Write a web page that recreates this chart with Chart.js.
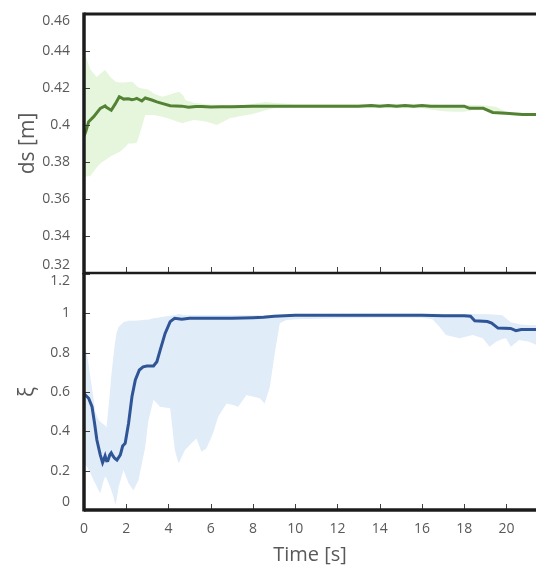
<!DOCTYPE html>
<html>
<head>
<meta charset="utf-8">
<script src="https://cdn.jsdelivr.net/npm/chart.js"></script>
<style>
  html, body { margin: 0; padding: 0; background: #fff; }
  #wrap { position: relative; width: 536px; height: 565px; overflow: hidden; }
  canvas { position: absolute; left: 0; }
  #topChart { top: 0; }
  #botChart { top: 273px; }
</style>
</head>
<body>
<div id="wrap">
  <canvas id="topChart" width="536" height="276"></canvas>
  <canvas id="botChart" width="536" height="292"></canvas>
</div>
<script>
// ---- top panel: ds [m] ----
const dsTime = [0, 0.1, 0.22, 0.46, 0.77, 1.0, 1.06, 1.29, 1.48, 1.67, 1.88, 2.1, 2.27, 2.4, 2.5, 2.6, 2.74, 2.9, 3.21, 3.45, 3.69, 4.08, 4.63, 4.95, 5.3, 5.58, 6.0, 6.5, 7.0, 7.47, 8, 9, 10, 11, 12, 13, 13.6, 14, 14.4, 14.8, 15.2, 15.6, 16, 16.4, 17, 17.5, 18, 18.25, 18.9, 19.35, 19.98, 20.77, 21.4];
const dsMean = [0.394, 0.397, 0.4018, 0.4045, 0.409, 0.4103, 0.4096, 0.408, 0.4114, 0.4153, 0.414, 0.4142, 0.4137, 0.414, 0.4144, 0.4138, 0.413, 0.4146, 0.4135, 0.4125, 0.4117, 0.4104, 0.4102, 0.4096, 0.41, 0.41, 0.4097, 0.4098, 0.4098, 0.41, 0.4102, 0.4102, 0.4102, 0.4102, 0.4102, 0.4102, 0.4106, 0.4102, 0.4106, 0.4102, 0.4106, 0.4102, 0.4106, 0.4102, 0.4102, 0.4102, 0.4102, 0.409, 0.409, 0.4068, 0.4063, 0.4057, 0.4057];
const dsBandTime = [0, 0.3, 0.6, 0.8, 1.0, 1.25, 1.5, 1.7, 1.95, 2.1, 2.3, 2.5, 2.65, 2.9, 3.0, 3.2, 3.3, 3.7, 4.0, 4.2, 4.5, 4.7, 4.8, 5.2, 5.6, 5.8, 6.3, 6.9, 7.5, 8.0, 8.6, 9.0, 10, 12, 14, 16, 16.5, 17, 17.5, 18, 18.5, 19, 19.5, 20, 20.5, 21.4];
const dsUpper = [0.440, 0.430, 0.426, 0.428, 0.4297, 0.426, 0.4234, 0.423, 0.423, 0.4232, 0.4234, 0.421, 0.420, 0.4195, 0.4193, 0.418, 0.417, 0.4153, 0.4162, 0.417, 0.418, 0.416, 0.4135, 0.412, 0.4115, 0.4112, 0.411, 0.411, 0.4108, 0.4115, 0.4125, 0.412, 0.4112, 0.4112, 0.4112, 0.4112, 0.411, 0.4108, 0.4108, 0.4108, 0.4108, 0.4105, 0.4098, 0.407, 0.4062, 0.406];
const dsLower = [0.372, 0.3725, 0.377, 0.3795, 0.381, 0.383, 0.3845, 0.3856, 0.388, 0.390, 0.390, 0.3904, 0.3955, 0.4054, 0.4054, 0.4054, 0.4054, 0.4045, 0.4035, 0.4027, 0.4015, 0.401, 0.4015, 0.4027, 0.4022, 0.4018, 0.400, 0.4036, 0.405, 0.406, 0.408, 0.409, 0.4092, 0.4092, 0.4092, 0.409, 0.4082, 0.4075, 0.4072, 0.4072, 0.4082, 0.4082, 0.406, 0.4055, 0.405, 0.405];

// ---- bottom panel: xi ----
const xiTime = [0, 0.06, 0.22, 0.38, 0.5, 0.61, 0.77, 0.88, 0.95, 1.0, 1.07, 1.13, 1.22, 1.29, 1.37, 1.45, 1.56, 1.72, 1.83, 1.95, 2.11, 2.27, 2.43, 2.62, 2.8, 2.98, 3.29, 3.45, 3.61, 3.84, 4.08, 4.29, 4.63, 5, 6, 7, 8, 8.5, 9, 9.5, 10, 12, 14, 16, 17, 18, 18.3, 18.5, 19.1, 19.3, 19.6, 20.2, 20.45, 20.7, 21.4];
const xiMean = [0.58, 0.585, 0.568, 0.525, 0.441, 0.356, 0.28, 0.241, 0.26, 0.275, 0.25, 0.251, 0.28, 0.291, 0.275, 0.263, 0.254, 0.28, 0.325, 0.339, 0.441, 0.576, 0.661, 0.712, 0.728, 0.732, 0.732, 0.754, 0.814, 0.898, 0.958, 0.975, 0.97, 0.975, 0.975, 0.975, 0.978, 0.98, 0.985, 0.988, 0.99, 0.99, 0.99, 0.99, 0.988, 0.988, 0.985, 0.962, 0.958, 0.95, 0.925, 0.923, 0.912, 0.918, 0.918];
const xiBandTime = [0, 0.14, 0.3, 0.46, 0.53, 0.69, 0.77, 0.93, 1.0, 1.07, 1.23, 1.29, 1.39, 1.48, 1.54, 1.64, 1.87, 2.11, 2.34, 2.58, 2.9, 3.04, 3.29, 3.53, 3.59, 4.08, 4.3, 4.48, 4.78, 5.09, 5.33, 5.56, 5.8, 6.11, 6.35, 6.75, 7.06, 7.3, 7.69, 8.32, 8.55, 8.8, 9.03, 9.27, 9.58, 10, 12, 14, 16, 16.5, 16.83, 17.14, 17.78, 18.41, 18.88, 19.2, 19.51, 19.8, 19.98, 20.21, 20.6, 21.07, 21.4];
const xiUpper = [0.84, 0.797, 0.678, 0.559, 0.50, 0.458, 0.45, 0.435, 0.43, 0.42, 0.60, 0.68, 0.78, 0.86, 0.90, 0.93, 0.955, 0.962, 0.962, 0.963, 0.968, 0.968, 0.975, 0.978, 0.98, 0.988, 0.99, 0.997, 0.99, 0.99, 0.99, 0.99, 0.99, 0.99, 0.99, 0.99, 0.99, 0.99, 0.99, 0.99, 0.99, 0.99, 0.99, 0.99, 0.99, 0.995, 0.997, 0.998, 0.998, 0.998, 0.998, 0.997, 0.997, 0.997, 0.995, 0.995, 0.993, 0.99, 0.975, 0.955, 0.945, 0.94, 0.94];
const xiLower = [0.237, 0.22, 0.19, 0.15, 0.136, 0.10, 0.085, 0.15, 0.17, 0.16, 0.12, 0.10, 0.07, 0.025, 0.05, 0.118, 0.203, 0.136, 0.10, 0.153, 0.32, 0.45, 0.56, 0.534, 0.525, 0.517, 0.305, 0.237, 0.305, 0.339, 0.364, 0.296, 0.314, 0.39, 0.474, 0.542, 0.534, 0.525, 0.585, 0.568, 0.542, 0.627, 0.797, 0.949, 0.966, 0.97, 0.975, 0.978, 0.978, 0.97, 0.932, 0.89, 0.873, 0.89, 0.873, 0.83, 0.856, 0.87, 0.873, 0.83, 0.864, 0.856, 0.84];

const xTicks = { min: 0, max: 21.4, step: 2 };

Chart.defaults.font.family = '"Open Sans", sans-serif';
Chart.defaults.color = '#595959';

const pts = (xs, ys) => xs.map((x, i) => ({ x: x, y: ys[i] }));
const fmt = v => String(Number(v.toFixed(4)));

// inward tick marks, clamped y labels and the heavy frame
const framePlugin = {
  id: 'frame',
  afterDraw(chart, args, opts) {
    const { ctx, chartArea: a, scales: { x, y } } = chart;
    ctx.save();
    ctx.strokeStyle = '#404040';
    ctx.lineWidth = 1;
    ctx.beginPath();
    x.ticks.forEach(t => {
      const px = Math.round(x.getPixelForValue(t.value)) + 0.5;
      ctx.moveTo(px, a.bottom);
      ctx.lineTo(px, a.bottom - 6);
    });
    y.ticks.forEach(t => {
      const py = Math.round(y.getPixelForValue(t.value)) + 0.5;
      ctx.moveTo(a.left, py);
      ctx.lineTo(a.left + 6, py);
    });
    ctx.stroke();

    ctx.fillStyle = '#595959';
    ctx.font = '14px "Open Sans", sans-serif';
    ctx.textAlign = 'right';
    ctx.textBaseline = 'middle';
    y.ticks.forEach(t => {
      const py = y.getPixelForValue(t.value);
      ctx.fillText(fmt(t.value), a.left - 14, Math.min(Math.max(py, a.top + 7), a.bottom - 8));
    });

    ctx.strokeStyle = '#1c1c1c';
    ctx.lineWidth = 3.5;
    ctx.beginPath();
    ctx.moveTo(a.left, opts.top ? a.top - 1.5 : a.top - 2);
    ctx.lineTo(a.left, a.bottom + 1.5);
    ctx.stroke();
    ctx.lineWidth = opts.top ? 2.5 : 3.5;
    ctx.beginPath();
    ctx.moveTo(a.left, a.bottom);
    ctx.lineTo(a.right, a.bottom);
    ctx.stroke();
    if (opts.top) {
      ctx.lineWidth = 3;
      ctx.beginPath();
      ctx.moveTo(a.left, a.top);
      ctx.lineTo(a.right, a.top);
      ctx.stroke();
    }
    ctx.restore();
  }
};

function makeChart(id, cfg) {
  return new Chart(document.getElementById(id), {
    type: 'line',
    data: {
      datasets: [
        { data: pts(cfg.time, cfg.mean), borderColor: cfg.line, borderWidth: 3, pointRadius: 0, fill: false, tension: 0 },
        { data: pts(cfg.bandTime, cfg.upper), borderWidth: 0, pointRadius: 0, backgroundColor: cfg.band, fill: '+1' },
        { data: pts(cfg.bandTime, cfg.lower), borderWidth: 0, pointRadius: 0, fill: false }
      ]
    },
    options: {
      responsive: false,
      animation: false,
      layout: { padding: cfg.padding },
      plugins: { legend: { display: false }, tooltip: { enabled: false }, frame: { top: cfg.isTop } },
      scales: {
        x: {
          type: 'linear',
          min: xTicks.min,
          max: xTicks.max,
          grid: { display: false },
          border: { display: false },
          ticks: { display: !cfg.isTop, stepSize: xTicks.step, includeBounds: false, padding: 3, font: { size: 14 }, maxRotation: 0 },
          title: { display: !cfg.isTop, text: 'Time [s]', font: { size: 20 }, padding: { top: 0, bottom: -2 } },
          afterFit: s => { s.height = cfg.isTop ? 0 : 55; }
        },
        y: {
          min: cfg.yMin,
          max: cfg.yMax,
          grid: { display: false },
          border: { display: false },
          ticks: { display: false, stepSize: cfg.yStep },
          title: { display: true, text: cfg.yTitle, font: { size: 21 }, padding: { top: 15, bottom: 0 } },
          afterFit: s => { s.width = 84; }
        }
      }
    },
    plugins: [framePlugin]
  });
}

makeChart('topChart', {
  isTop: true, time: dsTime, mean: dsMean, bandTime: dsBandTime, upper: dsUpper, lower: dsLower,
  line: '#548235', band: '#E6F6DC', yMin: 0.32, yMax: 0.46, yStep: 0.02, yTitle: 'ds [m]',
  padding: { top: 14, bottom: 3, left: 0, right: 0 }
});

makeChart('botChart', {
  isTop: false, time: xiTime, mean: xiMean, bandTime: xiBandTime, upper: xiUpper, lower: xiLower,
  line: '#2F5597', band: '#E0ECF8', yMin: 0, yMax: 1.2, yStep: 0.2, yTitle: 'ξ',
  padding: { top: 1, bottom: 0, left: 0, right: 0 }
});
</script>
</body>
</html>
